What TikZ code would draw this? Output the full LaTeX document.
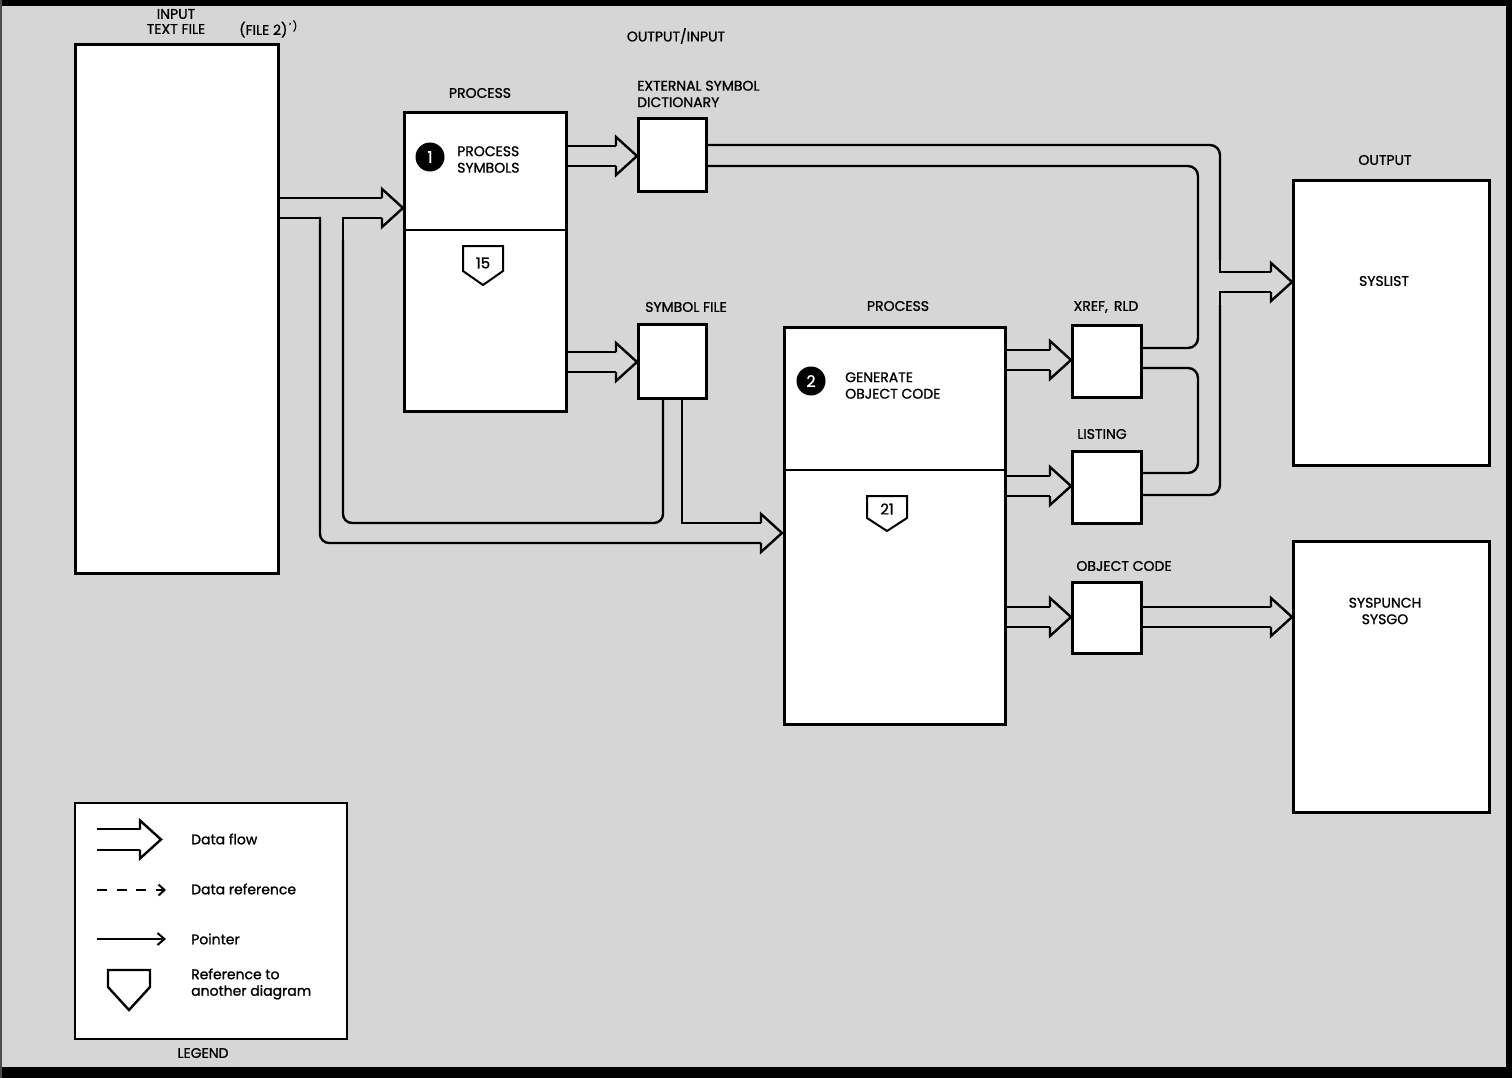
\documentclass[tikz,border=0pt]{standalone}
\usepackage{fontspec}
\setmainfont{Poppins}
\newfontfamily\lblfont{Poppins}[FakeBold=1.2]
\usetikzlibrary{arrows.meta}
\definecolor{bg}{gray}{0.84}
\newcommand\flowhead[2]{\draw[flowline,line join=miter] (#1-21,#2-10) -- (#1-21,#2-19) -- (#1,#2) -- (#1-21,#2+19) -- (#1-21,#2+10);}
\begin{document}
\begin{tikzpicture}[x=1pt,y=-1pt,
  box/.style={draw,line width=3pt,fill=white,inner sep=0pt,anchor=north west},
  flowline/.style={line width=2.4pt},
  lbl/.style={font=\lblfont\fontsize{14}{16.5}\selectfont,inner sep=0pt},
  num/.style={circle,fill=black,text=white,minimum size=29pt,inner sep=0pt,font=\lblfont\fontsize{16}{16}\selectfont},
  refsh/.style={line width=2pt,fill=white}]
\useasboundingbox (0,0) rectangle (1512,1078);
\fill[bg] (0,0) rectangle (1512,1078);
\fill[black] (0,0) rectangle (1512,6);
\fill[black] (0,1067) rectangle (1512,1078);
\fill[black] (1506,0) rectangle (1512,1078);
\fill[black!70] (0,0) rectangle (1.5,1078);

% boxes
\node[box,minimum width=203,minimum height=529] (inp) at (74,43) {};
\node[box,minimum width=162,minimum height=299] (p1) at (403,111) {};
\node[box,minimum width=68,minimum height=73] (esd) at (637,117) {};
\node[box,minimum width=68,minimum height=74] (sf) at (637,323) {};
\node[box,minimum width=221,minimum height=397] (p2) at (783,326) {};
\node[box,minimum width=69,minimum height=72] (xref) at (1071,324) {};
\node[box,minimum width=69,minimum height=72] (lst) at (1071,450) {};
\node[box,minimum width=69,minimum height=71] (obj) at (1071,581) {};
\node[box,minimum width=196,minimum height=285] (syslist) at (1292,179) {};
\node[box,minimum width=196,minimum height=271] (syspunch) at (1292,540) {};
\node[draw,line width=2pt,fill=white,inner sep=0pt,anchor=north west,minimum width=272,minimum height=236] (leg) at (74,802) {};

% dividers
\draw[line width=2pt] (p1.west |- 0,230) -- (p1.east |- 0,230);
\draw[line width=2pt] (p2.west |- 0,470) -- (p2.east |- 0,470);

% labels
\node[lbl] (tin) at (176,14) {INPUT};
\node[lbl] (ttf) at (176,29) {TEXT FILE};
\node[lbl,anchor=west] (tf2) at (239,29) {(FILE 2)\textsuperscript{\,’\,)}};
\node[lbl] (toi) at (676,36) {OUTPUT/INPUT};
\node[lbl] (tp1) at (480,93) {PROCESS};
\node[lbl,anchor=west,align=left] (tesd) at (637,94) {EXTERNAL SYMBOL\\DICTIONARY};
\node[lbl] (tsf) at (686,307) {SYMBOL FILE};
\node[lbl] (tp2) at (898,306) {PROCESS};
\node[lbl] (txr) at (1106,307) {XREF,\, RLD};
\node[lbl] (tls) at (1102,434) {LISTING};
\node[lbl] (tob) at (1124,566) {OBJECT CODE};
\node[lbl] (tout) at (1385,160) {OUTPUT};
\node[lbl] (tsl) at (1384,281) {SYSLIST};
\node[lbl,align=center] (tsp) at (1385,611) {SYSPUNCH\\SYSGO};
\node[lbl] (tleg) at (203,1053) {LEGEND};

% process 1 contents
\node[num] (n1) at (430,157) {1};
\node[lbl,anchor=west,align=left] (tps) at (457,159.5) {PROCESS\\SYMBOLS};
\draw[refsh] (463,246) -- (503,246) -- (503,271) -- (483,285) -- (463,271) -- cycle;
\node[lbl,font=\lblfont\fontsize{15}{16}\selectfont] (r15) at (483,263) {15};

% process 2 contents
\node[num] (n2) at (811,381) {2};
\node[lbl,anchor=west,align=left] (tgo) at (845,385.5) {GENERATE\\OBJECT CODE};
\draw[refsh] (867,496) -- (907,496) -- (907,518) -- (887,531) -- (867,518) -- cycle;
\node[lbl,font=\lblfont\fontsize{15}{16}\selectfont] (r21) at (887,509) {21};

% input -> process 1 and process 2
\draw[flowline] (inp.east |- 0,198) -- (382,198);
\draw[flowline] (inp.east |- 0,218) -- (320,218);
\draw[flowline,rounded corners=9pt] (320,217) -- (320,543) -- (761,543);
\draw[flowline,rounded corners=9pt] (sf.south -| 663,0) -- (663,523) -- (343,523) -- (343,240);
\draw[flowline] (343,240) -- (343,218) -- (382,218);
\draw[flowline] (sf.south -| 682,0) -- (682,523) -- (761,523);
\flowhead{403}{208}
\flowhead{782}{533}

% process 1 -> ESD, symbol file
\draw[flowline] (p1.east |- 0,146) -- (616,146);
\draw[flowline] (p1.east |- 0,166) -- (616,166);
\flowhead{637}{156}
\draw[flowline] (p1.east |- 0,352) -- (616,352);
\draw[flowline] (p1.east |- 0,372) -- (616,372);
\flowhead{637}{362}

% ESD / XREF / LISTING -> SYSLIST
\draw[flowline,rounded corners=10pt] (esd.east |- 0,145) -- (1220,145) -- (1220,260);
\draw[flowline] (1220,255) -- (1220,272) -- (1271,272);
\draw[flowline,rounded corners=10pt] (esd.east |- 0,166) -- (1198,166) -- (1198,348) -- (xref.east |- 0,348);
\draw[flowline,rounded corners=10pt] (xref.east |- 0,368) -- (1198,368) -- (1198,473) -- (lst.east |- 0,473);
\draw[flowline,rounded corners=10pt] (lst.east |- 0,495) -- (1220,495) -- (1220,305);
\draw[flowline] (1220,310) -- (1220,292) -- (1271,292);
\flowhead{1292}{282}

% process 2 -> outputs
\draw[flowline] (p2.east |- 0,350) -- (1050,350);
\draw[flowline] (p2.east |- 0,370) -- (1050,370);
\flowhead{1071}{360}
\draw[flowline] (p2.east |- 0,476) -- (1050,476);
\draw[flowline] (p2.east |- 0,496) -- (1050,496);
\flowhead{1071}{486}
\draw[flowline] (p2.east |- 0,607) -- (1050,607);
\draw[flowline] (p2.east |- 0,627) -- (1050,627);
\flowhead{1071}{617}
\draw[flowline] (obj.east |- 0,607) -- (1271,607);
\draw[flowline] (obj.east |- 0,627) -- (1271,627);
\flowhead{1292}{617}

% legend
\draw[flowline] (97,829) -- (140,829);
\draw[flowline] (97,850) -- (140,850);
\flowhead{161}{839.5}
\node[lbl,anchor=west] (ldf) at (191,839) {Data flow};
\coordinate (dr1) at (97,890);
\coordinate (dr2) at (166,890);
\draw[line width=2.4pt,dash pattern=on 10pt off 9.5pt,-{Straight Barb[length=6pt,width=11pt,line width=2pt]}] (dr1) -- (dr2);
\node[lbl,anchor=west] (ldr) at (191,889) {Data reference};
\coordinate (pt1) at (97,939);
\coordinate (pt2) at (166,939);
\draw[line width=2pt,-{Straight Barb[length=7pt,width=12pt,line width=2pt]}] (pt1) -- (pt2);
\node[lbl,anchor=west] (lpt) at (191,939) {Pointer};
\draw[line width=2.4pt] (108,970) -- (150,970) -- (150,987) -- (129,1010) -- (108,987) -- cycle;
\node[lbl,anchor=west,align=left] (lrf) at (191,984) {Reference to\\another diagram};
\end{tikzpicture}
\end{document}
